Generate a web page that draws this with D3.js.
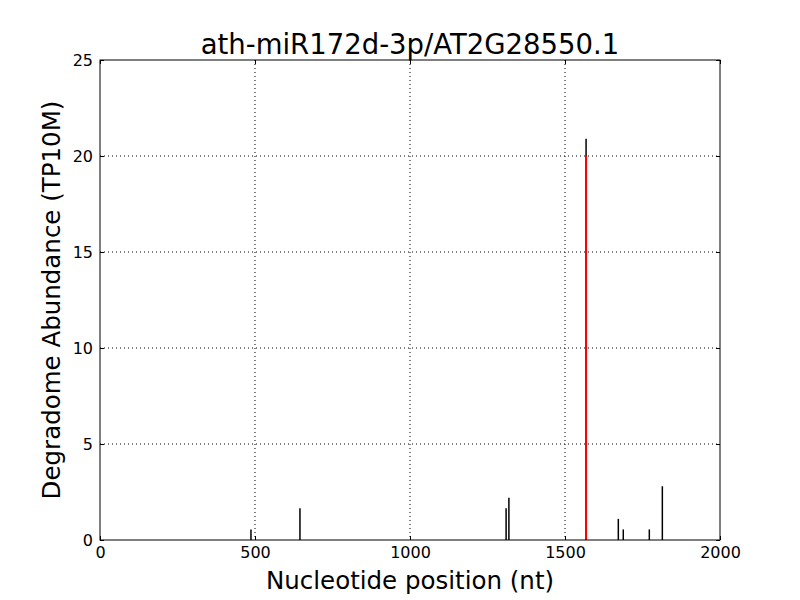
<!DOCTYPE html>
<html><head><meta charset="utf-8">
<script src="https://cdn.jsdelivr.net/npm/d3@7"></script>
<style>body{margin:0;background:#fff}svg{display:block}text{font-family:"DejaVu Sans",sans-serif}</style>
</head><body>
<svg id="c" width="800" height="600"></svg>
<script>
const positions = [487, 645, 1310, 1319, 1568, 1672, 1688, 1772, 1814];
const abundances = [0.55, 1.65, 1.65, 2.2, 20.9, 1.1, 0.55, 0.55, 2.8];
const targetPos = [1568];
const targetVal = [20];
const xTicks = [0, 500, 1000, 1500, 2000];
const yTicks = [0, 5, 10, 15, 20, 25];
const title = "ath-miR172d-3p/AT2G28550.1";

const svg = d3.select("#c");
const L=100,R=720,T=60,B=540;
const x = d3.scaleLinear().domain([0,2000]).range([L,R]);
const y = d3.scaleLinear().domain([0,25]).range([B,T]);

// grid
const g = svg.append("g");
xTicks.slice(1,-1).forEach(t=>g.append("line").attr("x1",x(t)).attr("x2",x(t)).attr("y1",T).attr("y2",B).attr("stroke","#000").attr("stroke-width",1).attr("stroke-dasharray","1,3"));
yTicks.slice(1,-1).forEach(t=>g.append("line").attr("y1",y(t)).attr("y2",y(t)).attr("x1",L).attr("x2",R).attr("stroke","#000").attr("stroke-width",1).attr("stroke-dasharray","1,3"));

// bars
svg.append("g").selectAll("line").data(positions.map((p,i)=>[p,abundances[i]])).join("line")
 .attr("x1",d=>x(d[0])).attr("x2",d=>x(d[0])).attr("y1",y(0)).attr("y2",d=>y(d[1]))
 .attr("stroke","#000").attr("stroke-width",1.5);
svg.append("g").selectAll("line").data(targetPos.map((p,i)=>[p,targetVal[i]])).join("line")
 .attr("x1",d=>x(d[0])).attr("x2",d=>x(d[0])).attr("y1",y(0)).attr("y2",d=>y(d[1]))
 .attr("stroke","#ff0000").attr("stroke-width",2);

// axes
const fmt = d3.format("d");
const ax = d3.axisBottom(x).tickValues(xTicks).tickFormat(fmt).tickSizeInner(-4).tickSizeOuter(0).tickPadding(7);
const axT = d3.axisTop(x).tickValues(xTicks).tickSizeInner(-4).tickSizeOuter(0).tickFormat("");
const ay = d3.axisLeft(y).tickValues(yTicks).tickFormat(fmt).tickSizeInner(-4).tickSizeOuter(0).tickPadding(7);
const ayR = d3.axisRight(y).tickValues(yTicks).tickSizeInner(-4).tickSizeOuter(0).tickFormat("");
function style(sel){sel.attr("font-size",null).attr("font-family",null);sel.select(".domain").remove();sel.selectAll("text").style("font-size","16px").attr("fill","#000").style("font-family","DejaVu Sans");sel.selectAll("line").attr("stroke","#000");}
svg.append("g").attr("transform",`translate(0,${B})`).call(ax).call(style);
svg.append("g").attr("transform",`translate(0,${T})`).call(axT).call(style);
svg.append("g").attr("transform",`translate(${L},0)`).call(ay).call(style);
svg.append("g").attr("transform",`translate(${R},0)`).call(ayR).call(style);
svg.append("rect").attr("x",L).attr("y",T).attr("width",R-L).attr("height",B-T).attr("fill","none").attr("stroke","#000").attr("stroke-width",1);

svg.append("text").attr("x",(L+R)/2).attr("y",54).attr("text-anchor","middle").style("font-size","27.5px").text(title);
svg.append("text").attr("x",(L+R)/2).attr("y",589).attr("text-anchor","middle").style("font-size","24.5px").text("Nucleotide position (nt)");
svg.append("text").attr("transform",`translate(60,${(T+B)/2}) rotate(-90)`).attr("text-anchor","middle").style("font-size","24.5px").text("Degradome Abundance (TP10M)");
</script>
</body></html>
